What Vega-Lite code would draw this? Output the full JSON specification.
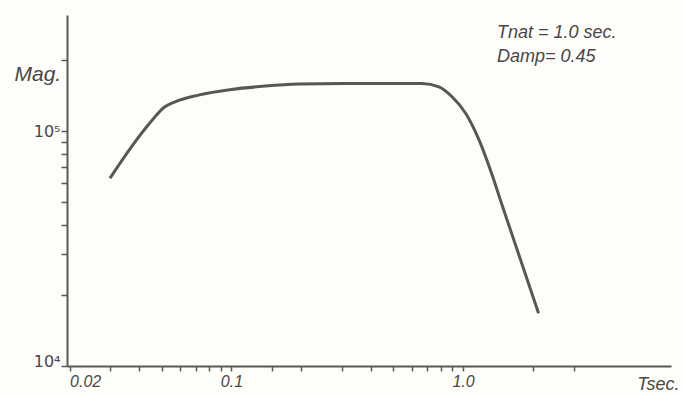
{
  "$schema": "https://vega.github.io/schema/vega-lite/v6.json",
  "autosize": "none",
  "width": 604,
  "height": 351,
  "padding": {"left": 67, "top": 15, "right": 13, "bottom": 28},
  "background": "#fdfdf9",
  "config": {
    "view": {"stroke": null},
    "font": "Liberation Sans"
  },
  "datasets": {
    "curve": [
      {"T": 0.0299, "Mag": 63000},
      {"T": 0.037, "Mag": 85700},
      {"T": 0.0437, "Mag": 106100},
      {"T": 0.0516, "Mag": 126900},
      {"T": 0.0571, "Mag": 133300},
      {"T": 0.072, "Mag": 142300},
      {"T": 0.1, "Mag": 150400},
      {"T": 0.14, "Mag": 155400},
      {"T": 0.195, "Mag": 158500},
      {"T": 0.311, "Mag": 159600},
      {"T": 0.665, "Mag": 159600},
      {"T": 0.787, "Mag": 154300},
      {"T": 0.896, "Mag": 140000},
      {"T": 1.027, "Mag": 118900},
      {"T": 1.173, "Mag": 91550},
      {"T": 1.326, "Mag": 66300},
      {"T": 1.482, "Mag": 47600},
      {"T": 1.713, "Mag": 31200},
      {"T": 2.118, "Mag": 16760}
    ],
    "notes": [
      {"T": 1.4, "Mag": 261000, "label": "Tnat = 1.0 sec."},
      {"T": 1.4, "Mag": 206600, "label": "Damp= 0.45"}
    ]
  },
  "layer": [
    {
      "data": {"name": "curve"},
      "mark": {"type": "line", "color": "#5a5658", "strokeWidth": 3, "interpolate": "monotone"},
      "encoding": {
        "x": {
          "field": "T", "type": "quantitative",
          "scale": {"type": "log", "domain": [0.0195, 7.9], "nice": false},
          "axis": {
            "values": [0.02, 0.03, 0.04, 0.05, 0.06, 0.07, 0.08, 0.09, 0.1, 0.15, 0.2, 0.3, 0.4, 0.5, 0.6, 0.7, 0.8, 0.9, 1, 2, 3],
            "labelExpr": "datum.value == 0.02 ? '0.02' : datum.value == 0.1 ? '0.1' : datum.value == 1 ? '1.0' : ''",
            "labelAlign": {"condition": {"test": "datum.value == 0.02", "value": "left"}, "value": "center"},
            "grid": false,
            "domainColor": "#5a5658", "domainWidth": 2,
            "tickColor": "#5a5658", "tickWidth": 1.5, "tickSize": 5,
            "labelFont": "Liberation Sans", "labelFontStyle": "italic", "labelFontSize": 16,
            "labelColor": "#4a4648", "labelPadding": 2, "labelFlush": false,
            "title": "Tsec.", "titleFont": "Liberation Sans", "titleFontStyle": "italic",
            "titleFontWeight": "normal", "titleFontSize": 18, "titleColor": "#4a4648",
            "titleAnchor": "end", "titleAlign": "right", "titleBaseline": "alphabetic",
            "titleX": 612, "titleY": 23
          }
        },
        "y": {
          "field": "Mag", "type": "quantitative",
          "scale": {"type": "log", "domain": [10000, 312000], "nice": false},
          "axis": {
            "values": [10000, 20000, 30000, 40000, 50000, 60000, 70000, 80000, 90000, 100000, 200000],
            "labelExpr": "datum.value == 100000 ? '10⁵' : datum.value == 10000 ? '10⁴' : ''",
            "labelBaseline": {"condition": {"test": "datum.value == 10000", "value": "alphabetic"}, "value": "middle"},
            "grid": false,
            "domainColor": "#5a5658", "domainWidth": 2,
            "tickColor": "#5a5658", "tickWidth": 1.5, "tickSize": 6,
            "labelFont": "DejaVu Sans", "labelFontSize": 16,
            "labelColor": "#4a4648", "labelPadding": 1,
            "title": "Mag.", "titleFont": "Liberation Sans", "titleFontStyle": "italic",
            "titleFontWeight": "normal", "titleFontSize": 21, "titleColor": "#4a4648",
            "titleAngle": 0, "titleAlign": "left", "titleBaseline": "middle",
            "titleX": -53, "titleY": 59
          }
        }
      }
    },
    {
      "data": {"name": "notes"},
      "mark": {"type": "text", "align": "left", "baseline": "middle", "font": "Liberation Sans", "fontStyle": "italic", "fontSize": 18, "color": "#4a4648"},
      "encoding": {
        "x": {"field": "T", "type": "quantitative"},
        "y": {"field": "Mag", "type": "quantitative"},
        "text": {"field": "label"}
      }
    }
  ]
}
